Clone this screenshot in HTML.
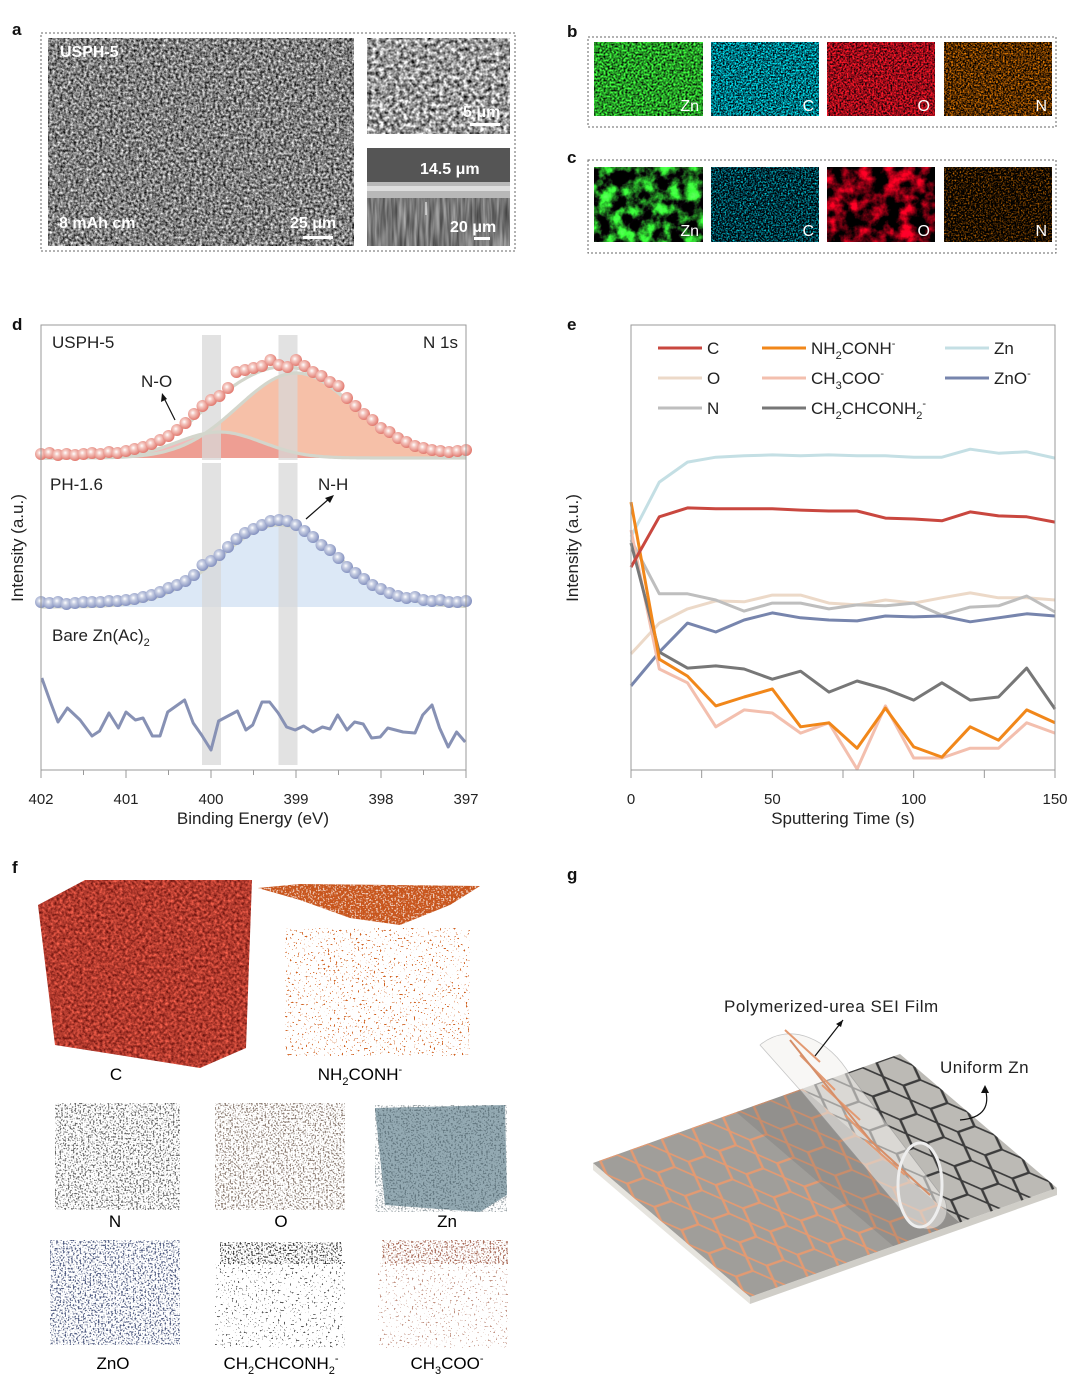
<!DOCTYPE html>
<html><head><meta charset="utf-8"><title>Figure</title>
<style>
html,body{margin:0;padding:0;background:#fff;}
svg{display:block;font-family:"Liberation Sans",Arial,sans-serif;}
filter{color-interpolation-filters:sRGB;}
</style></head>
<body>
<svg id="fig" width="1080" height="1376" viewBox="0 0 1080 1376" xmlns="http://www.w3.org/2000/svg">
<defs>
  <filter id="sem" x="0" y="0" width="1" height="1" color-interpolation-filters="sRGB"><feTurbulence type="fractalNoise" baseFrequency="0.38" numOctaves="3" seed="3"/><feColorMatrix type="matrix" values="1.4 0 0 0 -0.2  1.4 0 0 0 -0.2  1.4 0 0 0 -0.2  0 0 0 0 1"/></filter>
  <filter id="sem2" x="0" y="0" width="1" height="1" color-interpolation-filters="sRGB"><feTurbulence type="fractalNoise" baseFrequency="0.25" numOctaves="3" seed="8"/><feColorMatrix type="matrix" values="1.6 0 0 0 -0.2  1.6 0 0 0 -0.2  1.6 0 0 0 -0.2  0 0 0 0 1"/></filter>
  <filter id="semx" x="0" y="0" width="1" height="1" color-interpolation-filters="sRGB"><feTurbulence type="fractalNoise" baseFrequency="0.35 0.03" numOctaves="2" seed="5"/><feColorMatrix type="matrix" values="0.6 0 0 0 0.17  0.6 0 0 0 0.17  0.6 0 0 0 0.17  0 0 0 0 1"/></filter>
  <filter id="mZn" x="0" y="0" width="1" height="1" color-interpolation-filters="sRGB"><feTurbulence type="fractalNoise" baseFrequency="0.5" numOctaves="2" seed="1"/><feColorMatrix type="matrix" values="0.5 0 0 0 -0.1  2.2 0 0 0 -0.5  0.5 0 0 0 -0.1  0 0 0 0 1"/></filter>
  <filter id="mC" x="0" y="0" width="1" height="1" color-interpolation-filters="sRGB"><feTurbulence type="fractalNoise" baseFrequency="0.6" numOctaves="2" seed="2"/><feColorMatrix type="matrix" values="0 0 0 0 0  2.2 0 0 0 -0.65  2.2 0 0 0 -0.6  0 0 0 0 1"/></filter>
  <filter id="mO" x="0" y="0" width="1" height="1" color-interpolation-filters="sRGB"><feTurbulence type="fractalNoise" baseFrequency="0.55" numOctaves="2" seed="4"/><feColorMatrix type="matrix" values="2.2 0 0 0 -0.5  0.2 0 0 0 -0.05  0.3 0 0 0 -0.05  0 0 0 0 1"/></filter>
  <filter id="mN" x="0" y="0" width="1" height="1" color-interpolation-filters="sRGB"><feTurbulence type="fractalNoise" baseFrequency="0.6" numOctaves="2" seed="6"/><feColorMatrix type="matrix" values="2.2 0 0 0 -0.75  1.2 0 0 0 -0.42  0 0 0 0 0  0 0 0 0 1"/></filter>
  <filter id="cZn" x="0" y="0" width="1" height="1" color-interpolation-filters="sRGB"><feTurbulence type="fractalNoise" baseFrequency="0.07" numOctaves="4" seed="9"/><feColorMatrix type="matrix" values="0.7 0 0 0 -0.25  3.6 0 0 0 -1.45  0.7 0 0 0 -0.25  0 0 0 0 1"/></filter>
  <filter id="cC" x="0" y="0" width="1" height="1" color-interpolation-filters="sRGB"><feTurbulence type="fractalNoise" baseFrequency="0.6" numOctaves="2" seed="12"/><feColorMatrix type="matrix" values="0 0 0 0 0  2.0 0 0 0 -0.8  2.0 0 0 0 -0.75  0 0 0 0 1"/></filter>
  <filter id="cO" x="0" y="0" width="1" height="1" color-interpolation-filters="sRGB"><feTurbulence type="fractalNoise" baseFrequency="0.07" numOctaves="4" seed="19"/><feColorMatrix type="matrix" values="3.0 0 0 0 -1.15  0 0 0 0 0  0.4 0 0 0 -0.15  0 0 0 0 1"/></filter>
  <filter id="cN" x="0" y="0" width="1" height="1" color-interpolation-filters="sRGB"><feTurbulence type="fractalNoise" baseFrequency="0.6" numOctaves="2" seed="14"/><feColorMatrix type="matrix" values="2.0 0 0 0 -0.9  1.1 0 0 0 -0.5  0 0 0 0 0  0 0 0 0 1"/></filter>
  <filter id="redcube" x="0" y="0" width="1" height="1" color-interpolation-filters="sRGB"><feTurbulence type="fractalNoise" baseFrequency="0.35" numOctaves="2" seed="21"/><feColorMatrix type="matrix" values="0.9 0 0 0 0.25  0.5 0 0 0 -0.02  0.4 0 0 0 -0.02  0 0 0 0 1"/></filter>
  <filter id="speck" x="0" y="0" width="1" height="1" color-interpolation-filters="sRGB"><feTurbulence type="fractalNoise" baseFrequency="0.6" numOctaves="1" seed="31" result="t"/><feColorMatrix in="t" type="matrix" values="0 0 0 0 0  0 0 0 0 0  0 0 0 0 0  9 0 0 0 -4.6" result="m"/><feComposite in="SourceGraphic" in2="m" operator="in"/></filter>
  <filter id="speckD" x="0" y="0" width="1" height="1" color-interpolation-filters="sRGB"><feTurbulence type="fractalNoise" baseFrequency="0.6" numOctaves="1" seed="33" result="t"/><feColorMatrix in="t" type="matrix" values="0 0 0 0 0  0 0 0 0 0  0 0 0 0 0  7 0 0 0 -3.6" result="m"/><feComposite in="SourceGraphic" in2="m" operator="in"/></filter>
  <filter id="speckS" x="0" y="0" width="1" height="1" color-interpolation-filters="sRGB"><feTurbulence type="fractalNoise" baseFrequency="0.5" numOctaves="1" seed="35" result="t"/><feColorMatrix in="t" type="matrix" values="0 0 0 0 0  0 0 0 0 0  0 0 0 0 0  12 0 0 0 -7.6" result="m"/><feComposite in="SourceGraphic" in2="m" operator="in"/></filter>
  <radialGradient id="rdot" cx="0.4" cy="0.4" r="0.6"><stop offset="0" stop-color="#fff"/><stop offset="0.35" stop-color="#f4c6bf"/><stop offset="1" stop-color="#e27a70"/></radialGradient>
  <radialGradient id="bdot" cx="0.4" cy="0.4" r="0.6"><stop offset="0" stop-color="#fff"/><stop offset="0.35" stop-color="#c6cde2"/><stop offset="1" stop-color="#8592c0"/></radialGradient>
  <pattern id="hexO" width="30" height="26" patternUnits="userSpaceOnUse"><path d="M0 13 L7 0 L23 0 L30 13 L23 26 L7 26 Z" fill="none" stroke="#e39a72" stroke-width="2"/></pattern>
  <pattern id="hexD" width="30" height="26" patternUnits="userSpaceOnUse"><path d="M0 13 L7 0 L23 0 L30 13 L23 26 L7 26 Z" fill="none" stroke="#3c3c3c" stroke-width="2"/></pattern>
  <clipPath id="clipC"><path d="M38 905 L85 880 L252 880 L246 1048 L200 1068 L150 1060 L55 1045 Z"/></clipPath>
  <clipPath id="clipNtop"><path d="M258 888 L300 884 L480 886 L450 905 L400 925 L350 918 L300 900 Z"/></clipPath>
</defs>

<g font-weight="bold" font-size="17" fill="#111">
  <text x="12" y="35">a</text>
  <text x="567" y="37">b</text>
  <text x="567" y="163">c</text>
  <text x="12" y="330">d</text>
  <text x="567" y="330">e</text>
  <text x="12" y="873">f</text>
  <text x="567" y="880">g</text>
</g>

<g>
  <rect x="41" y="33" width="474" height="218" fill="none" stroke="#666" stroke-dasharray="2 2"/>
  <rect x="48" y="38" width="306" height="208" filter="url(#sem)"/>
  <rect x="367" y="38" width="143" height="96" filter="url(#sem2)"/>
  <rect x="367" y="148" width="143" height="98" fill="#7a7a7a"/>
  <rect x="367" y="148" width="143" height="35" fill="#555"/>
  <rect x="367" y="196" width="143" height="50" filter="url(#semx)"/>
  <rect x="367" y="182" width="143" height="16" fill="#b8b8b8"/>
  <rect x="367" y="186" width="143" height="5" fill="#dedede"/>
  <g fill="#fff" font-weight="bold">
    <text x="60" y="57" font-size="16">USPH-5</text>
    <text x="59" y="228" font-size="16">8 mAh cm</text>
    <text x="290" y="228" font-size="16">25 μm</text>
    <text x="463" y="117" font-size="16">5 μm</text>
    <text x="420" y="174" font-size="16">14.5 μm</text>
    <text x="450" y="232" font-size="16">20 μm</text>
  </g>
  <rect x="303" y="236" width="30" height="3" fill="#fff"/>
  <rect x="470" y="123" width="30" height="3" fill="#fff"/>
  <rect x="474" y="237" width="16" height="3" fill="#fff"/>
  <line x1="426" y1="202" x2="426" y2="215" stroke="#fff" stroke-width="1"/>
</g>

<g>
  <rect x="588" y="37" width="468" height="90" fill="none" stroke="#666" stroke-dasharray="2 2"/>
  <rect x="594" y="42" width="109" height="74" filter="url(#mZn)"/>
  <rect x="711" y="42" width="108" height="74" filter="url(#mC)"/>
  <rect x="827" y="42" width="108" height="74" filter="url(#mO)"/>
  <rect x="944" y="42" width="108" height="74" filter="url(#mN)"/>
</g>
<g>
  <rect x="588" y="160" width="468" height="93" fill="none" stroke="#666" stroke-dasharray="2 2"/>
  <rect x="594" y="167" width="109" height="75" filter="url(#cZn)"/>
  <rect x="711" y="167" width="108" height="75" filter="url(#cC)"/>
  <rect x="827" y="167" width="108" height="75" filter="url(#cO)"/>
  <rect x="944" y="167" width="108" height="75" filter="url(#cN)"/>
</g>
<g fill="#fff" font-size="16" text-anchor="end">
  <text x="699" y="111">Zn</text><text x="814" y="111">C</text><text x="930" y="111">O</text><text x="1047" y="111">N</text>
  <text x="699" y="236">Zn</text><text x="814" y="236">C</text><text x="930" y="236">O</text><text x="1047" y="236">N</text>
</g>

<g id="panelD"></g>
<g id="panelE"></g>

<g>
  <rect x="36" y="876" width="220" height="196" filter="url(#redcube)" clip-path="url(#clipC)"/>
  <rect x="256" y="880" width="226" height="48" fill="#c8551c" clip-path="url(#clipNtop)"/>
  <g clip-path="url(#clipNtop)"><rect x="256" y="880" width="226" height="48" fill="#fff" filter="url(#speckD)" opacity="0.7"/></g>
  <text x="116" y="1080" font-size="17" text-anchor="middle">C</text>
  <text x="360" y="1080" font-size="17" text-anchor="middle">NH<tspan font-size="11" dy="5">2</tspan><tspan dy="-5">CONH</tspan><tspan font-size="11" dy="-7">-</tspan></text>
  <text x="115" y="1227" font-size="17" text-anchor="middle">N</text>
  <text x="281" y="1227" font-size="17" text-anchor="middle">O</text>
  <text x="447" y="1227" font-size="17" text-anchor="middle">Zn</text>
  <text x="113" y="1369" font-size="17" text-anchor="middle">ZnO</text>
  <text x="281" y="1369" font-size="17" text-anchor="middle">CH<tspan font-size="11" dy="5">2</tspan><tspan dy="-5">CHCONH</tspan><tspan font-size="11" dy="5">2</tspan><tspan font-size="11" dy="-12">-</tspan></text>
  <text x="447" y="1369" font-size="17" text-anchor="middle">CH<tspan font-size="11" dy="5">3</tspan><tspan dy="-5">COO</tspan><tspan font-size="11" dy="-7">-</tspan></text>
</g>

<g id="panelG">
  <polygon points="593,1163 750,1297 750,1304 593,1170" fill="#e6e4de"/>
  <polygon points="750,1297 1057,1188 1057,1195 750,1304" fill="#d0cec8"/>
  <g transform="matrix(1.0233,-0.3633,1.0467,0.8933,593,1163)">
    <rect x="0" y="0" width="205" height="150" fill="#a09e9a"/>
    <rect x="205" y="0" width="95" height="150" fill="#bcbab5"/>
    <rect x="0" y="0" width="205" height="150" fill="url(#hexO)"/>
    <rect x="205" y="0" width="95" height="150" fill="url(#hexD)"/>
    <rect x="140" y="0" width="65" height="150" fill="#555" opacity="0.18"/>
  </g>
  <path d="M760 1045 C790 1020 830 1040 850 1075 L945 1200 C955 1230 920 1240 905 1215 L800 1090 Z" fill="#f4f2ee" opacity="0.55" stroke="#999" stroke-width="0.8"/>
  <path d="M785 1030 L820 1062 M800 1055 L835 1090 M822 1085 L860 1120 M845 1115 L880 1150 M865 1140 L905 1175" stroke="#e39a72" stroke-width="2" fill="none"/>
  <path d="M790 1040 L870 1140 L930 1195" stroke="#d68e68" stroke-width="2" fill="none"/>
  <ellipse cx="920" cy="1185" rx="22" ry="42" fill="none" stroke="#eee" stroke-width="3"/>
  <text x="724" y="1012" font-size="17" fill="#222" letter-spacing="0.5">Polymerized-urea  SEI Film</text>
  <text x="940" y="1073" font-size="17" fill="#222" letter-spacing="0.5">Uniform Zn</text>
  <path d="M815 1056 L843 1020" stroke="#111" stroke-width="1.2"/><path d="M843 1020 L836 1024 L841 1027 Z" fill="#111"/>
  <path d="M960 1120 C985 1118 990 1105 985 1088" stroke="#111" stroke-width="1.2" fill="none"/><path d="M985 1085 L981 1093 L989 1093 Z" fill="#111"/>
</g>
</svg>

<script>
// ===== Panel d data =====
const dEnergies = [402.0,401.9,401.8,401.7,401.6,401.5,401.4,401.3,401.2,401.1,401.0,400.9,400.8,400.7,400.6,400.5,400.4,400.3,400.2,400.1,400.0,399.9,399.8,399.7,399.6,399.5,399.4,399.3,399.2,399.1,399.0,398.9,398.8,398.7,398.6,398.5,398.4,398.3,398.2,398.1,398.0,397.9,397.8,397.7,397.6,397.5,397.4,397.3,397.2,397.1,397.0];
const usphDots = [2,3,1,2,1,2,3,2,4,3,5,7,9,12,16,20,26,33,42,50,56,60,68,84,86,88,90,96,91,89,96,90,84,80,74,70,58,50,42,36,28,24,18,14,10,8,6,5,4,5,6];
const phDots = [3,2,3,1,2,3,3,3,4,4,5,6,8,10,13,17,20,24,30,40,44,50,58,66,72,76,80,84,85,84,80,74,68,60,55,47,38,32,26,20,16,12,9,7,8,5,4,5,3,3,4];
const usphPeakCenters = [399.0, 399.9];
const usphPeakAmps = [85, 26];
const usphPeakSigmas = [0.68, 0.5];
const phPeakCenters = [399.2];
const phPeakAmps = [82];
const phPeakSigmas = [0.7];
const bareEnergies = [401.99,401.89,401.80,401.69,401.54,401.40,401.31,401.20,401.09,401.00,400.89,400.80,400.69,400.60,400.51,400.31,400.21,400.11,400.00,399.91,399.69,399.59,399.51,399.40,399.31,399.21,399.11,399.01,398.91,398.80,398.69,398.60,398.51,398.40,398.31,398.21,398.11,398.01,397.92,397.74,397.60,397.51,397.40,397.31,397.21,397.11,397.01];
const bareValues = [92,68,48,62,50,34,39,57,42,58,50,52,34,34,58,70,47,35,20,49,59,40,45,68,68,57,43,40,44,38,43,41,55,40,48,46,32,33,42,38,37,55,65,42,23,38,28];
const dTickLabels = [402,401,400,399,398,397];
const dBands = [400.0, 399.1];

// ===== Panel e data =====
const eTimes = [0,10,20,30,40,50,60,70,80,90,100,110,120,130,140,150];
const eC = [45.6,56.9,58.9,58.7,58.7,58.7,58.4,58.2,58.2,56.6,56.4,56.0,58.0,57.1,56.9,55.7];
const eO = [26.1,33.0,36.2,38.0,37.8,39.3,39.3,37.5,37.1,38.2,37.5,38.7,39.8,38.7,38.7,38.2];
const eN = [51.7,39.6,39.6,38.2,35.7,37.5,37.5,36.2,37.1,36.9,37.5,34.8,36.6,36.9,39.1,35.5];
const eNH2CONH = [60.2,24.9,21.1,14.4,16.4,18.2,9.7,10.6,4.9,13.9,5.2,2.9,9.7,6.7,13.5,10.6];
const eCH3COO = [53.9,22.7,19.6,9.7,13.5,12.8,8.3,10.6,0.2,14.4,2.7,2.7,4.9,4.9,10.6,8.3];
const eCH2CHCONH2 = [51.0,26.5,22.9,23.4,22.7,20.4,22.2,17.5,20.0,18.2,15.7,19.6,15.7,16.4,22.9,13.7];
const eZn = [52.4,64.7,69.2,70.3,70.6,70.8,70.6,70.8,70.6,70.6,70.3,70.3,72.1,71.2,71.5,70.1];
const eZnO = [18.9,26.5,33.0,31.0,33.7,35.3,34.2,33.7,33.5,34.6,34.4,34.6,33.3,34.2,35.1,34.6];
const eTickLabels = [0,50,100,150];

const NS = "http://www.w3.org/2000/svg";
function mk(tag, attrs, parent){ const el=document.createElementNS(NS,tag); for(const k in attrs) el.setAttribute(k,attrs[k]); parent.appendChild(el); return el; }

(function(){
  const g = document.getElementById('panelD');
  const L=41,R=466,T=325,B=770;
  const xE = e => L + (402 - e) * (R-L)/5;
  const baseRed = 458, basePh = 607;
  const gauss = (e, c, a, s) => a*Math.exp(-((e-c)*(e-c))/(2*s*s));
  const fine = []; for(let i=0;i<=250;i++) fine.push(402 - i*0.02);
  function area(c,a,s,base,fill,name){
    let d = 'M'+xE(402)+' '+base;
    fine.forEach(e=>{ d += ' L'+xE(e).toFixed(1)+' '+(base-gauss(e,c,a,s)).toFixed(1); });
    d += ' L'+xE(397)+' '+base+' Z';
    const p = mk('path',{d:d,fill:fill},g);
    
    
  }
  function curve(cs,as,ss,base,name){
    let d='';
    fine.forEach((e,i)=>{ let v=0; for(let k=0;k<cs.length;k++) v+=gauss(e,cs[k],as[k],ss[k]); d+=(i?' L':'M')+xE(e).toFixed(1)+' '+(base-v).toFixed(1); });
    const p = mk('path',{d:d,fill:'none',stroke:'#d3d6cc','stroke-width':3.2},g);
    
    
  }
  area(usphPeakCenters[0],usphPeakAmps[0],usphPeakSigmas[0],baseRed,'#f6c0a8','usph-peak-nh-fill');
  area(usphPeakCenters[1],usphPeakAmps[1],usphPeakSigmas[1],baseRed,'rgba(232,130,130,0.55)','usph-peak-no-fill');
  area(phPeakCenters[0],phPeakAmps[0],phPeakSigmas[0],basePh,'#dce8f6','ph-peak-fill');
  dBands.forEach(b=>{
    const x = xE(b);
    const r1 = mk('rect',{x:x-9,y:T+10,width:19,height:baseRed-T-8,fill:'#d8d8d8',opacity:0.75},g);
    
    
    const r2 = mk('rect',{x:x-9,y:baseRed+5,width:19,height:B-5-baseRed-5,fill:'#d8d8d8',opacity:0.75},g);
    
    
  });
  for(let k=0;k<usphPeakCenters.length;k++) curve([usphPeakCenters[k]],[usphPeakAmps[k]],[usphPeakSigmas[k]],baseRed,'usph-fit-component');
  curve(usphPeakCenters,usphPeakAmps,usphPeakSigmas,baseRed,'usph-fit-envelope');
  curve(phPeakCenters,phPeakAmps,phPeakSigmas,basePh,'ph-fit-envelope');
  dEnergies.forEach((e,i)=>{
    const c1 = mk('circle',{cx:xE(e),cy:baseRed-usphDots[i]-2,r:6,fill:'url(#rdot)'},g);
    
    
    const c2 = mk('circle',{cx:xE(e),cy:basePh-phDots[i]-2,r:6,fill:'url(#bdot)'},g);
    
    
  });
  let d='';
  bareEnergies.forEach((e,i)=>{ d+=(i?' L':'M')+xE(e).toFixed(1)+' '+(B-bareValues[i]); });
  const bl = mk('path',{d:d,fill:'none',stroke:'#8791b4','stroke-width':3,'stroke-linejoin':'round'},g);
  
  
  const fr = mk('rect',{x:L,y:T,width:R-L,height:B-T,fill:'none',stroke:'#999','stroke-width':1},g);
  
  
  for(let i=0;i<=10;i++){
    const x = xE(402 - i*0.5);
    mk('line',{x1:x,y1:B,x2:x,y2:B+(i%2?5:8),stroke:'#999'},g);
  }
  dTickLabels.forEach(v=>{
    const t = mk('text',{x:xE(v),y:B+34,'font-size':15,'text-anchor':'middle',fill:'#222'},g);
    t.textContent = v;
    
    
  });
  const xt = mk('text',{x:253,y:824,'font-size':17,'text-anchor':'middle',fill:'#222'},g);
  xt.textContent='Binding Energy (eV)';
  
  
  const yt = mk('text',{x:0,y:0,'font-size':17,'text-anchor':'middle',fill:'#222',transform:'translate(23,548) rotate(-90)'},g);
  yt.textContent='Intensity (a.u.)';
  
  
  const labs=[['USPH-5',52,348,'start','sample-label-usph'],['N 1s',458,348,'end','region-label'],['N-O',141,387,'start','peak-label-no'],['PH-1.6',50,490,'start','sample-label-ph'],['N-H',318,490,'start','peak-label-nh']];
  labs.forEach(a=>{
    const t = mk('text',{x:a[1],y:a[2],'font-size':17,'text-anchor':a[3],fill:'#222'},g);
    t.textContent=a[0];
    
    
  });
  const bz = mk('text',{x:52,y:641,'font-size':17,fill:'#222'},g);
  bz.textContent='Bare Zn(Ac)';
  const sub = mk('tspan',{'font-size':11,dy:5},bz);
  sub.textContent='2';
  
  
  mk('line',{x1:175,y1:420,x2:164,y2:398,stroke:'#111','stroke-width':1.2},g);
  mk('path',{d:'M162 393 L161 402 L167 399 Z',fill:'#111'},g);
  mk('line',{x1:306,y1:519,x2:330,y2:498,stroke:'#111','stroke-width':1.2},g);
  mk('path',{d:'M334 495 L325 498 L330 503 Z',fill:'#111'},g);
})();

(function(){
  const g = document.getElementById('panelE');
  const L=631,R=1055,T=325,B=770;
  const xT = t => L + t*(R-L)/150;
  const yV = v => B - v*(B-T)/100;
  const series = [
    [eO,'#ecd9c8','O'],[eN,'#bebebe','N'],[eZn,'#c4dfe4','Zn'],[eZnO,'#7785ad','ZnO'],
    [eCH3COO,'#f3bfae','CH3COO'],[eCH2CHCONH2,'#777','CH2CHCONH2'],[eNH2CONH,'#f1871a','NH2CONH'],[eC,'#c9473f','C']
  ];
  series.forEach(s=>{
    let d=''; eTimes.forEach((t,i)=>{ d+=(i?' L':'M')+xT(t).toFixed(1)+' '+yV(s[0][i]).toFixed(1); });
    const p = mk('path',{d:d,fill:'none',stroke:s[1],'stroke-width':3,'stroke-linejoin':'round'},g);
    
    
  });
  const fr = mk('rect',{x:L,y:T,width:R-L,height:B-T,fill:'none',stroke:'#999'},g);
  
  
  for(let i=0;i<=6;i++){ const x=xT(i*25); mk('line',{x1:x,y1:B,x2:x,y2:B+8,stroke:'#999'},g); }
  eTickLabels.forEach(v=>{
    const t = mk('text',{x:xT(v),y:B+34,'font-size':15,'text-anchor':'middle',fill:'#222'},g);
    t.textContent=v;
    
    
  });
  const xt = mk('text',{x:843,y:824,'font-size':17,'text-anchor':'middle',fill:'#222'},g);
  xt.textContent='Sputtering Time (s)';
  
  
  const yt = mk('text',{x:0,y:0,'font-size':17,'text-anchor':'middle',fill:'#222',transform:'translate(578,548) rotate(-90)'},g);
  yt.textContent='Intensity (a.u.)';
  
  
  const legend = [
    [658,348,'#c9473f',[['C','n']]],
    [762,348,'#f1871a',[['NH','n'],['2','s'],['CONH','n'],['-','p']]],
    [945,348,'#c4dfe4',[['Zn','n']]],
    [658,378,'#ecd9c8',[['O','n']]],
    [762,378,'#f3bfae',[['CH','n'],['3','s'],['COO','n'],['-','p']]],
    [945,378,'#7785ad',[['ZnO','n'],['-','p']]],
    [658,408,'#bebebe',[['N','n']]],
    [762,408,'#777',[['CH','n'],['2','s'],['CHCONH','n'],['2','s'],['-','p']]]
  ];
  legend.forEach(l=>{
    const ln = mk('line',{x1:l[0],y1:l[1],x2:l[0]+44,y2:l[1],stroke:l[2],'stroke-width':3},g);
    
    
    const t = mk('text',{x:l[0]+49,y:l[1]+6,'font-size':17,fill:'#222'},g);
    let off = 0;
    l[3].forEach(p=>{
      let target = p[1]==='n' ? 0 : (p[1]==='s' ? 5 : -7);
      const ts = mk('tspan',{dy: target-off},t);
      if(p[1]!=='n') ts.setAttribute('font-size','11');
      ts.textContent = p[0];
      off = target;
    });
    
    
  });
})();

(function(){
  const svg = document.getElementById('fig');
  const g = mk('g',{},svg);
  
  
  const cubes = [
    [55,1103,125,107,'#666','speckD','cube-n'],
    [215,1103,130,107,'#8a7a70','speckD','cube-o'],
    [50,1240,130,105,'#4e5a80','speckD','cube-zno'],
    [215,1262,130,86,'#555','speckS','cube-ch2chconh2'],
    [378,1262,130,86,'#c09080','speckS','cube-ch3coo'],
    [220,1242,122,22,'#3a3a3a','speckD','cube-ch2chconh2-top'],
    [382,1240,126,24,'#a86a58','speckD','cube-ch3coo-top'],
    [285,928,185,128,'#d0601e','speckS','cube-nh2conh-dots']
  ];
  cubes.forEach(c=>{
    const r = mk('rect',{x:c[0],y:c[1],width:c[2],height:c[3],fill:c[4],filter:'url(#'+c[5]+')'},g);
    
    
  });
  const zn = mk('path',{d:'M375 1108 L505 1105 L507 1195 L480 1212 L385 1205 Z',fill:'#94aab3'},g);
  
  
  const zs = mk('rect',{x:375,y:1105,width:132,height:107,fill:'#33454e',filter:'url(#speckD)',opacity:0.5},g);
  
  
})();
</script>
</body></html>
